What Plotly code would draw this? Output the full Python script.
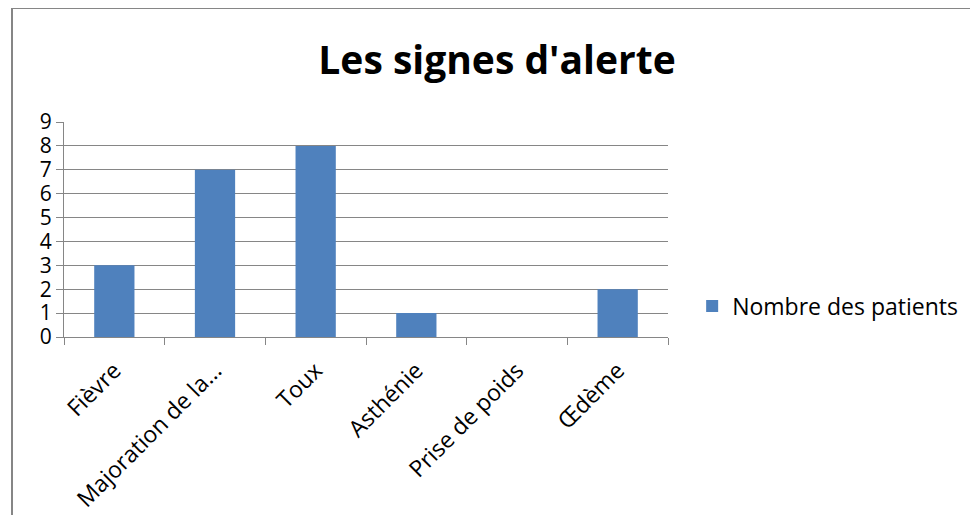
import plotly.graph_objects as go

categories = ["Fièvre", "Majoration de la...", "Toux", "Asthénie", "Prise de poids", "Œdème"]
patients = [3, 7, 8, 1, 0, 2]
series_name = "Nombre des patients"
title = "Les signes d'alerte"

FONT = "Open Sans"
GREY = "#868686"
OFF = 8  # the page body adds an 8px margin around the figure

fig = go.Figure()
fig.add_trace(go.Bar(
    x=categories,
    y=patients,
    name=series_name,
    marker=dict(color="#4F81BD", line=dict(width=0)),
    width=0.4,
    showlegend=True,
))

fig.update_layout(
    width=978, height=515,
    margin=dict(l=64 - OFF, r=310 + OFF, t=122 - OFF, b=178 + OFF),
    paper_bgcolor="white",
    plot_bgcolor="white",
    title=dict(text=f"<b>{title}</b>", x=(497 - OFF) / 978, xanchor="center",
               y=1 - (60 - OFF) / 515, yanchor="middle",
               font=dict(family=FONT, size=39, color="black")),
    font=dict(family=FONT, color="black"),
    showlegend=True,
    legend=dict(x=1.04, y=0.144, xanchor="left", yanchor="middle",
                font=dict(size=23, color="black"), bgcolor="rgba(0,0,0,0)"),
    bargap=0.6,
)

fig.update_yaxes(
    range=[0, 9], dtick=1, showgrid=True, gridcolor=GREY, gridwidth=1,
    showline=True, linecolor=GREY, linewidth=1, automargin=False,
    ticks="outside", ticklen=7, tickcolor=GREY,
    tickfont=dict(size=21, color="black"), zeroline=False,
)
fig.update_xaxes(
    type="category", tickson="boundaries", showgrid=False,
    showline=True, linecolor=GREY, linewidth=1, automargin=False,
    ticks="outside", ticklen=7, tickcolor=GREY, ticklabelstandoff=10,
    tickangle=-45, tickfont=dict(size=23, color="black"),
)

# outer frame of the chart
fig.add_shape(type="rect", xref="paper", yref="paper",
              x0=(12 - 64) / 604, x1=(995 - 64) / 604,
              y0=(337 - 530) / 215, y1=1 + (122 - 8) / 215,
              line=dict(color=GREY, width=2), layer="below")

fig.write_html("out.html")
